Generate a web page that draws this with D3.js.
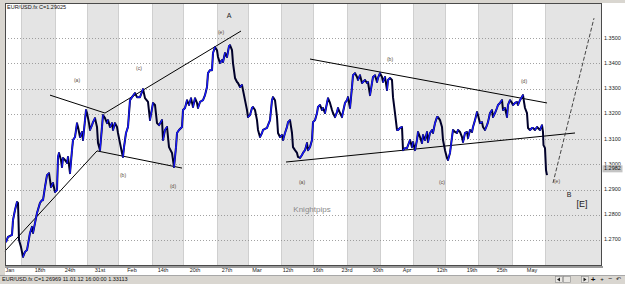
<!DOCTYPE html>
<html>
<head>
<meta charset="utf-8">
<script src="https://cdn.jsdelivr.net/npm/d3@7"></script>
<style>
  body { margin: 0; background: #fff; }
  text { font-family: "Liberation Sans", Arial, sans-serif; }
</style>
</head>
<body>
<div id="chart"></div>
<script>
//  data : bar position (chart sessions) and close price
var bars = [
  6, 8, 12, 13, 15, 17, 18, 18.5, 19, 21, 23, 25, 27, 30, 32, 33, 35, 37, 40, 42, 43, 45, 47, 49, 51, 53, 55, 57, 58, 59,
  61, 62, 63, 65, 67, 68, 70, 72, 73, 75, 77, 78, 80, 82, 83, 85, 86, 87, 89, 90, 92, 93, 95, 97, 98, 100, 102, 103, 105, 107,
  108, 110, 112, 113, 115, 117, 118, 120, 122, 123, 124, 126, 127, 128,
  130, 132, 135, 137, 140, 143, 145, 148, 150, 153, 155, 157, 159, 162, 163, 165, 167, 169, 172, 174, 176, 177, 179, 182, 183, 185,
  187, 189, 191, 193, 195, 197, 198, 200, 203, 205, 207, 208, 210, 212, 213, 215, 217, 218, 220, 222, 223, 225, 227, 229, 230, 232,
  233, 235, 237, 238, 240, 242, 243, 245, 247, 248, 250, 252, 253, 255, 257, 258, 260, 262,
  263, 267, 268, 270, 272, 273, 275, 277, 278, 280, 282, 283, 285, 287, 288, 290, 292, 293, 295, 297, 298, 300, 302, 303, 305, 307,
  308, 310, 312, 313, 315, 317, 318, 320, 322, 323, 325, 327, 328, 330, 332, 333, 335, 337, 338, 340, 342, 343, 345, 347, 348, 350,
  352, 353, 355, 357, 358, 360, 362, 363, 365, 367, 368, 370, 372, 373, 375, 377, 378, 380, 382, 383, 385, 387, 388, 390, 392, 393,
  395, 397, 398,
  400, 402, 403, 405, 407, 410, 412, 413, 415, 417, 418, 420, 422, 423, 425, 427, 428, 430, 432, 433, 435, 437, 438, 440, 442, 443,
  445, 447, 448, 450, 452, 453, 455, 457, 458, 460, 462, 463, 465, 467, 468, 470, 472, 473, 475, 477, 478, 480, 482, 483, 485, 487,
  488, 490, 492, 493, 495, 497, 498, 500, 502, 503, 505, 507, 508, 510, 512, 513, 515, 517, 518, 520, 523, 524, 525, 527, 528, 530,
  532, 533, 535, 537, 538, 540, 542, 543, 543.5, 545, 546, 547
];
var prices = [
  1.2692, 1.2712, 1.2720, 1.2779, 1.2819, 1.2851, 1.2847, 1.2779, 1.2700, 1.2672, 1.2633, 1.2653, 1.2660, 1.2728, 1.2752, 1.2728, 1.2767, 1.2807, 1.2847, 1.2858, 1.2858, 1.2910, 1.2957, 1.2965, 1.2910, 1.2926, 1.2890, 1.2898, 1.3029, 1.3045,
  1.3017, 1.2989, 1.3025, 1.3017, 1.3005, 1.3029, 1.2965, 1.3056, 1.3096, 1.3108, 1.3163, 1.3148, 1.3108, 1.3128, 1.3096, 1.3175, 1.3215, 1.3203, 1.3163, 1.3136, 1.3155, 1.3167, 1.3183, 1.3148, 1.3084, 1.3056, 1.3148, 1.3195, 1.3183, 1.3163,
  1.3175, 1.3148, 1.3163, 1.3136, 1.3163, 1.3148, 1.3124, 1.3084, 1.3045, 1.3029, 1.3068, 1.3124, 1.3136, 1.3148,
  1.3254, 1.3266, 1.3282, 1.3266, 1.3266, 1.3298, 1.3262, 1.3247, 1.3175, 1.3243, 1.3235, 1.3163, 1.3155, 1.3175, 1.3096, 1.3136, 1.3148, 1.3068, 1.3045, 1.2989, 1.3068, 1.3124, 1.3136, 1.3148, 1.3215, 1.3223,
  1.3254, 1.3235, 1.3262, 1.3227, 1.3262, 1.3243, 1.3223, 1.3247, 1.3254, 1.3274, 1.3306, 1.3361, 1.3373, 1.3373, 1.3441, 1.3464, 1.3452, 1.3425, 1.3401, 1.3413, 1.3405, 1.3441, 1.3425, 1.3468, 1.3472, 1.3452,
  1.3401, 1.3342, 1.3326, 1.3322, 1.3306, 1.3314, 1.3294, 1.3254, 1.3215, 1.3187, 1.3195, 1.3223, 1.3227, 1.3215, 1.3175, 1.3136, 1.3108, 1.3124,
  1.3136, 1.3144, 1.3155, 1.3175, 1.3254, 1.3266, 1.3254, 1.3187, 1.3124, 1.3108, 1.3116, 1.3096, 1.3124, 1.3148, 1.3167, 1.3175, 1.3124, 1.3068, 1.3056, 1.3045, 1.3029, 1.3025, 1.3037, 1.3045, 1.3056, 1.3084,
  1.3056, 1.3068, 1.3096, 1.3167, 1.3175, 1.3203, 1.3227, 1.3235, 1.3215, 1.3223, 1.3203, 1.3243, 1.3262, 1.3243, 1.3215, 1.3203, 1.3187, 1.3207, 1.3223, 1.3203, 1.3187, 1.3207, 1.3243, 1.3254, 1.3266, 1.3223,
  1.3306, 1.3353, 1.3361, 1.3346, 1.3334, 1.3353, 1.3322, 1.3326, 1.3334, 1.3322, 1.3326, 1.3274, 1.3322, 1.3346, 1.3353, 1.3326, 1.3342, 1.3361, 1.3346, 1.3326, 1.3346, 1.3294, 1.3334, 1.3342, 1.3334, 1.3266,
  1.3203, 1.3136, 1.3136,
  1.3144, 1.3148, 1.3056, 1.3064, 1.3064, 1.3096, 1.3068, 1.3088, 1.3056, 1.3096, 1.3128, 1.3108, 1.3084, 1.3116, 1.3096, 1.3128, 1.3088, 1.3124, 1.3136, 1.3124, 1.3163, 1.3187, 1.3187, 1.3175, 1.3148, 1.3096,
  1.3056, 1.3025, 1.3017, 1.3045, 1.3108, 1.3136, 1.3128, 1.3124, 1.3136, 1.3128, 1.3108, 1.3088, 1.3124, 1.3128, 1.3104, 1.3136, 1.3128, 1.3148, 1.3175, 1.3207, 1.3195, 1.3163, 1.3167, 1.3148, 1.3136, 1.3155,
  1.3167, 1.3203, 1.3215, 1.3187, 1.3203, 1.3223, 1.3235, 1.3243, 1.3254, 1.3215, 1.3223, 1.3187, 1.3235, 1.3254, 1.3243, 1.3235, 1.3243, 1.3247, 1.3235, 1.3254, 1.3274, 1.3247, 1.3223, 1.3203, 1.3144, 1.3136,
  1.3144, 1.3144, 1.3136, 1.3148, 1.3144, 1.3136, 1.3155, 1.3128, 1.3076, 1.3064, 1.2977, 1.2957
];

//  axis
var priceTicks = [1.35, 1.34, 1.33, 1.32, 1.31, 1.30, 1.29, 1.28, 1.27];
var closePrice = 1.2982;
var dateTickBars = [10, 40, 70, 100, 132, 163, 195, 227, 257, 288, 318, 347, 378, 407, 442, 472, 502, 532];
var dateTickLabels = ["Jan", "18th", "24th", "31st", "Feb", "14th", "20th", "27th", "Mar", "12th", "16th", "23rd", "30th", "Apr", "12th", "19th", "25th", "May"];
var weekBounds = [5, 21, 55, 87, 118, 152, 183, 217, 248, 281, 313, 347, 380, 413, 445, 478, 512, 545, 601];

//  trendlines [bar0, price0, bar1, price1]
var trendlines = [
  [5, 1.2656, 97, 1.3053],
  [97, 1.3053, 182, 1.2985],
  [50, 1.3274, 105, 1.3203],
  [105, 1.3203, 241, 1.3528],
  [310, 1.3417, 547, 1.3243],
  [286, 1.3009, 575, 1.3124]
];
var projection = [553, 1.2926, 594, 1.3579];

//  wave labels
var waveLabels = ["(a)", "(b)", "(c)", "(d)", "(e)", "(a)", "(b)", "(c)", "(d)", "(e)"];
var waveBars = [77, 123, 139, 173, 221, 302, 390, 442, 524, 557];
var wavePrices = [1.3331, 1.2953, 1.3377, 1.2910, 1.3520, 1.2926, 1.3413, 1.2926, 1.3326, 1.2930];
var degreeLabels = ["A", "B", "[E]"];
var degreeBars = [229, 569, 582];
var degreePrices = [1.3585, 1.2878, 1.2840];

function draw() {
  var W = 625, H = 284;
  var plot = {left: 5, right: 601, top: 3, bottom: 265};

  var svg = d3.select("#chart").append("svg").attr("width", W).attr("height", H);

  var x = d3.scaleLinear().domain([5, 601]).range([plot.left, plot.right]);
  var y = d3.scaleLinear().domain([1.2601, 1.3639]).range([plot.bottom, plot.top]);

  // window frame
  svg.append("rect").attr("width", W).attr("height", H).attr("fill", "#fff");
  svg.append("rect").attr("x", 0).attr("y", 0).attr("width", W).attr("height", plot.top).attr("fill", "#d9d6d0");
  svg.append("rect").attr("x", 0).attr("y", 0).attr("width", plot.left).attr("height", 275).attr("fill", "#d9d6d0");

  // week bands
  var bands = d3.range(weekBounds.length - 1).map(i => ({a: weekBounds[i], b: weekBounds[i + 1], i: i}));
  svg.append("g").selectAll("rect").data(bands.filter(d => d.i % 2 == 1)).enter()
    .append("rect")
    .attr("x", d => x(d.a))
    .attr("y", plot.top)
    .attr("width", d => x(d.b) - x(d.a))
    .attr("height", plot.bottom - plot.top)
    .attr("fill", "#e4e4e4");
  svg.append("g").selectAll("line").data(weekBounds.slice(1, -1)).enter()
    .append("line")
    .attr("x1", d => x(d) + 0.5).attr("x2", d => x(d) + 0.5)
    .attr("y1", plot.top).attr("y2", plot.bottom)
    .attr("stroke", "#cfcfcf").attr("stroke-width", 1);

  // grid
  svg.append("g").selectAll("line").data(priceTicks).enter()
    .append("line")
    .attr("x1", plot.left).attr("x2", plot.right)
    .attr("y1", d => Math.round(y(d)) + 0.5).attr("y2", d => Math.round(y(d)) + 0.5)
    .attr("stroke", "#8a8a8a").attr("stroke-width", 0.8).attr("stroke-dasharray", "1,2");

  // trendlines
  svg.append("g").selectAll("line").data(trendlines).enter()
    .append("line")
    .attr("x1", d => x(d[0])).attr("y1", d => y(d[1]))
    .attr("x2", d => x(d[2])).attr("y2", d => y(d[3]))
    .attr("stroke", "#000").attr("stroke-width", 1);
  svg.append("line")
    .attr("x1", x(projection[0])).attr("y1", y(projection[1]))
    .attr("x2", x(projection[2])).attr("y2", y(projection[3]))
    .attr("stroke", "#333").attr("stroke-width", 0.9).attr("stroke-dasharray", "4,2");

  // price line: dark base, rising segments in blue
  var pts = bars.map((b, i) => [b, prices[i]]);
  var line = d3.line().x(d => x(d[0])).y(d => y(d[1]));
  svg.append("path").datum(pts)
    .attr("d", line)
    .attr("fill", "none").attr("stroke", "#00002a").attr("stroke-width", 2)
    .attr("stroke-linejoin", "round");
  var ups = d3.range(pts.length - 1).filter(i => pts[i + 1][1] >= pts[i][1]).map(i => [pts[i], pts[i + 1]]);
  svg.append("g").selectAll("path").data(ups).enter()
    .append("path")
    .attr("d", line)
    .attr("fill", "none").attr("stroke", "#1a1aff").attr("stroke-width", 1.3)
    .attr("stroke-linecap", "round");

  // labels
  svg.append("g").selectAll("text").data(waveLabels).enter()
    .append("text")
    .attr("x", (d, i) => x(waveBars[i]))
    .attr("y", (d, i) => y(wavePrices[i]))
    .attr("text-anchor", "middle").attr("dominant-baseline", "middle")
    .style("font-size", "5px").attr("fill", "#5a4a3a")
    .text(d => d);
  svg.append("g").selectAll("text").data(degreeLabels).enter()
    .append("text")
    .attr("x", (d, i) => x(degreeBars[i]))
    .attr("y", (d, i) => y(degreePrices[i]))
    .attr("text-anchor", "middle").attr("dominant-baseline", "middle")
    .style("font-size", (d, i) => i == 2 ? "9px" : "7px")
    .attr("fill", "#222")
    .text(d => d);
  svg.append("text")
    .attr("x", 312).attr("y", 210)
    .attr("text-anchor", "middle").attr("dominant-baseline", "middle")
    .style("font-size", "8px").attr("fill", "#8a8a8a")
    .text("Knightpips");
  svg.append("text")
    .attr("x", 7).attr("y", 7.5)
    .attr("dominant-baseline", "middle")
    .style("font-size", "5.5px").attr("fill", "#111")
    .text("EUR/USD.fx C=1.29025");

  // plot border
  svg.append("rect")
    .attr("x", plot.left + 0.5).attr("y", plot.top + 0.5)
    .attr("width", plot.right - plot.left).attr("height", plot.bottom - plot.top)
    .attr("fill", "none").attr("stroke", "#4a4a4a").attr("stroke-width", 1);
  svg.append("line")
    .attr("x1", plot.left).attr("x2", plot.right + 2)
    .attr("y1", plot.bottom + 2).attr("y2", plot.bottom + 2)
    .attr("stroke", "#9a9a9a").attr("stroke-width", 2);

  // right price axis
  svg.append("g").selectAll("text").data(priceTicks).enter()
    .append("text")
    .attr("x", 604)
    .attr("y", d => y(d))
    .attr("dominant-baseline", "middle")
    .style("font-size", "5.5px").attr("fill", "#222")
    .text(d => d.toFixed(4));
  svg.append("rect")
    .attr("x", 602.5).attr("y", y(closePrice) - 3.5)
    .attr("width", 20).attr("height", 7)
    .attr("fill", "#c4c4c4");
  svg.append("text")
    .attr("x", 604).attr("y", y(closePrice))
    .attr("dominant-baseline", "middle")
    .style("font-size", "5.5px").attr("fill", "#111")
    .text(closePrice.toFixed(4));

  // bottom date axis
  svg.append("g").selectAll("text").data(dateTickLabels).enter()
    .append("text")
    .attr("x", (d, i) => x(dateTickBars[i]))
    .attr("y", 270.5)
    .attr("text-anchor", "middle").attr("dominant-baseline", "middle")
    .style("font-size", "5.5px").attr("fill", "#222")
    .text(d => d);

  // status bar
  svg.append("rect").attr("x", 0).attr("y", 275).attr("width", W).attr("height", H - 275).attr("fill", "#d9d6d0");
  svg.append("line").attr("x1", 0).attr("x2", W).attr("y1", 275.5).attr("y2", 275.5).attr("stroke", "#a8a8a8");
  svg.append("text")
    .attr("x", 2).attr("y", 279.5)
    .attr("dominant-baseline", "middle")
    .style("font-size", "5.5px").attr("fill", "#111")
    .text("EUR/USD.fx C=1.26969   11.01.12 16:00:00 1.33113");

  var btn = svg.append("g");
  [555, 563, 581].forEach(bx => {
    btn.append("rect").attr("x", bx + 0.5).attr("y", 276.5).attr("width", 7).attr("height", 6)
      .attr("fill", "#e8e6e2").attr("stroke", "#8a8a8a").attr("stroke-width", 0.6);
  });
  btn.append("path").attr("d", "M560,277.5 L557,279.5 L560,281.5 Z").attr("fill", "#222");
  btn.append("path").attr("d", "M583.5,277.5 L586.5,279.5 L583.5,281.5 Z").attr("fill", "#222");
  btn.append("text").attr("x", 593).attr("y", 279.5).attr("text-anchor", "middle").attr("dominant-baseline", "middle")
    .style("font-size", "8px").style("font-weight", "bold").attr("fill", "#111").text("+");
  btn.append("text").attr("x", 602).attr("y", 279.5).attr("text-anchor", "middle").attr("dominant-baseline", "middle")
    .style("font-size", "6px").attr("fill", "#111").text("+");
  btn.append("text").attr("x", 610).attr("y", 279.5).attr("text-anchor", "middle").attr("dominant-baseline", "middle")
    .style("font-size", "7px").attr("fill", "#111").text("\u2212");
  btn.append("text").attr("x", 618).attr("y", 279.5).attr("text-anchor", "middle").attr("dominant-baseline", "middle")
    .style("font-size", "6px").attr("fill", "#111").text("\u21b6");

  return svg.node();
}

draw();
</script>
</body>
</html>
